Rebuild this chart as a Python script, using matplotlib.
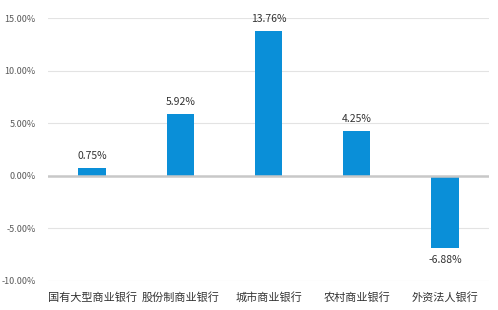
import matplotlib
matplotlib.use("Agg")
import matplotlib.pyplot as plt
from matplotlib.ticker import FuncFormatter

plt.rcParams['font.family'] = ['Noto Sans CJK SC', 'DejaVu Sans']

categories = ["国有大型商业银行", "股份制商业银行", "城市商业银行", "农村商业银行", "外资法人银行"]
values = [0.75, 5.92, 13.76, 4.25, -6.88]
yticks = [-10, -5, 0, 5, 10, 15]

fig = plt.figure(figsize=(4.98, 3.10), dpi=100)
ax = fig.add_axes([48 / 498, 29 / 310, 441 / 498, 263 / 310])

x = list(range(len(categories)))
bars = ax.bar(x, values, width=0.31, color="#0a8fd8", zorder=3)

ax.set_xlim(-0.5, len(categories) - 0.5)
ax.set_ylim(-10, 15)
ax.set_yticks(yticks)
ax.yaxis.set_major_formatter(FuncFormatter(lambda v, _: f"{v:.2f}%"))
ax.grid(axis="y", color="#e3e3e3", linewidth=0.8, zorder=0)
ax.axhline(0, color="#c8c8c8", linewidth=1.8, zorder=4)

for s in ax.spines.values():
    s.set_visible(False)
ax.tick_params(axis="y", length=0, labelsize=6.5, labelcolor="#595959", pad=9)
ax.tick_params(axis="x", length=0, labelsize=8, labelcolor="#333333", pad=8)
ax.set_xticks(x)
ax.set_xticklabels(categories)

for xi, v in zip(x, values):
    if v >= 0:
        ax.annotate(f"{v:.2f}%", (xi, v), xytext=(0, 5), textcoords="offset points",
                    ha="center", va="bottom", fontsize=7.5, color="#333333")
    else:
        ax.annotate(f"{v:.2f}%", (xi, v), xytext=(0, -5), textcoords="offset points",
                    ha="center", va="top", fontsize=7.5, color="#333333")

fig.savefig("out.png", dpi=100)
